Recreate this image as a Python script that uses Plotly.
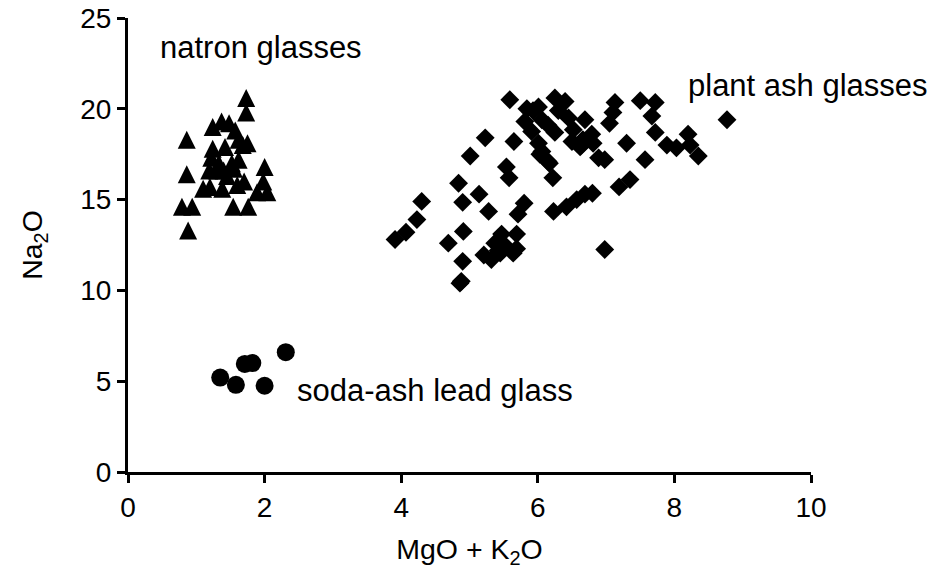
import plotly.graph_objects as go

# natron glasses (triangles)
natron_x = [1.73, 1.73, 0.86, 0.86, 0.79, 0.94, 0.88, 1.24, 1.37, 1.48, 1.57, 1.62,
            1.68, 1.75, 1.24, 1.22, 1.42, 1.52, 1.45, 1.19, 1.30, 1.40, 1.55, 2.00,
            1.10, 1.20, 1.38, 1.60, 1.70, 1.98, 1.89, 2.04, 1.54, 1.76, 1.33, 1.62]
natron_y = [20.6, 19.8, 18.3, 16.4, 14.6, 14.6, 13.3, 19.0, 19.3, 19.2, 18.8, 18.3,
            18.0, 18.1, 17.8, 17.3, 17.9, 17.0, 16.3, 16.6, 16.6, 16.6, 16.7, 16.8,
            15.6, 15.7, 15.6, 15.8, 16.0, 16.0, 15.4, 15.4, 14.6, 14.6, 17.0, 17.2]

# soda-ash lead glass (circles)
lead_x = [1.35, 1.58, 1.71, 1.82, 2.00, 2.31]
lead_y = [5.2, 4.8, 5.95, 6.0, 4.75, 6.6]

# plant ash glasses (diamonds)
plant_x = [3.91, 4.07, 4.23, 4.30, 4.69, 4.90, 4.88, 4.86, 4.91, 4.84, 4.90, 5.01,
           5.14, 5.28, 5.23, 5.21, 5.32, 5.47, 5.54, 5.64, 5.69, 5.42, 5.37, 5.54,
           5.58, 5.65, 5.80, 5.71, 6.17, 6.22, 6.23, 6.42, 6.57, 6.69, 6.80, 6.98,
           5.59, 5.84, 6.01, 6.25, 5.81, 6.06, 6.15, 6.30, 6.45, 6.69, 6.52, 5.91,
           6.25, 6.01, 6.06, 6.50, 6.64, 6.79, 6.15, 6.89, 7.13, 7.50, 7.72, 7.10,
           7.05, 7.67, 6.40, 6.81, 6.62, 7.72, 7.30, 7.89, 8.03, 8.20, 8.23, 8.35,
           8.77, 7.57, 6.98, 7.35, 7.19, 6.03, 5.45, 5.69, 5.93, 6.66]
plant_y = [12.8, 13.2, 13.9, 14.9, 12.6, 11.6, 10.5, 10.4, 13.25, 15.9, 14.85, 17.4,
           15.3, 14.35, 18.4, 11.95, 11.7, 13.1, 12.4, 12.05, 13.1, 12.2, 12.6, 16.8,
           16.2, 18.2, 14.8, 14.2, 17.0, 16.2, 14.35, 14.6, 15.0, 15.3, 15.35, 12.25,
           20.5, 20.0, 20.1, 20.6, 19.3, 19.4, 19.1, 19.9, 19.5, 19.4, 18.85, 18.75,
           18.7, 18.1, 17.65, 18.2, 18.0, 18.6, 17.1, 17.3, 20.35, 20.45, 20.35, 19.8,
           19.2, 19.6, 20.4, 18.1, 17.9, 18.7, 18.1, 18.0, 17.85, 18.6, 18.0, 17.4,
           19.4, 17.2, 17.2, 16.1, 15.7, 17.5, 12.05, 12.3, 19.9, 18.3]

x_ticks = [0, 2, 4, 6, 8, 10]
y_ticks = [0, 5, 10, 15, 20, 25]

FONT = "Liberation Sans, Arial, sans-serif"

fig = go.Figure()
fig.add_trace(go.Scatter(
    x=natron_x, y=natron_y, mode="markers", name="natron glasses",
    marker=dict(symbol="arrow-down", angle=180, standoff=9, size=18,
                color="black", line=dict(width=0)),
    cliponaxis=False))
fig.add_trace(go.Scatter(
    x=lead_x, y=lead_y, mode="markers", name="soda-ash lead glass",
    marker=dict(symbol="circle", size=18, color="black", line=dict(width=0)),
    cliponaxis=False))
fig.add_trace(go.Scatter(
    x=plant_x, y=plant_y, mode="markers", name="plant ash glasses",
    marker=dict(symbol="diamond", size=14.5, color="black", line=dict(width=0)),
    cliponaxis=False))

annots = [
    dict(x=1.95, y=23.4, text="natron glasses"),
    dict(x=9.96, y=21.3, text="plant ash glasses"),
    dict(x=4.49, y=4.5, text="soda-ash lead glass"),
]
fig.update_layout(
    annotations=[dict(a, xref="x", yref="y", showarrow=False,
                      font=dict(family=FONT, size=31, color="black"))
                 for a in annots],
    width=943, height=575,
    margin=dict(l=128, r=132, t=18, b=103, autoexpand=False),
    paper_bgcolor="white", plot_bgcolor="white",
    showlegend=False,
    font=dict(family=FONT, color="black"),
)
fig.update_xaxes(
    range=[0, 10], tickvals=x_ticks, ticks="outside", ticklen=8, tickwidth=3,
    tickcolor="black", showline=True, linewidth=3, linecolor="black",
    showgrid=False, zeroline=False, tickfont=dict(size=28), automargin=False,
    ticklabeloverflow="allow",
    title=dict(text="MgO + K<sub>2</sub>O", font=dict(size=28.5), standoff=18))
fig.update_yaxes(
    range=[0, 25], tickvals=y_ticks, ticks="outside", ticklen=8, tickwidth=3,
    tickcolor="black", showline=True, linewidth=3, linecolor="black",
    showgrid=False, zeroline=False, tickfont=dict(size=28), automargin=False,
    ticklabeloverflow="allow",
    title=dict(text="Na<sub>2</sub>O", font=dict(size=28.5), standoff=30))

fig.write_html(
    "out.html",
    config={"displayModeBar": False},
    post_script="document.body.style.margin='0';document.body.style.overflow='hidden';")
